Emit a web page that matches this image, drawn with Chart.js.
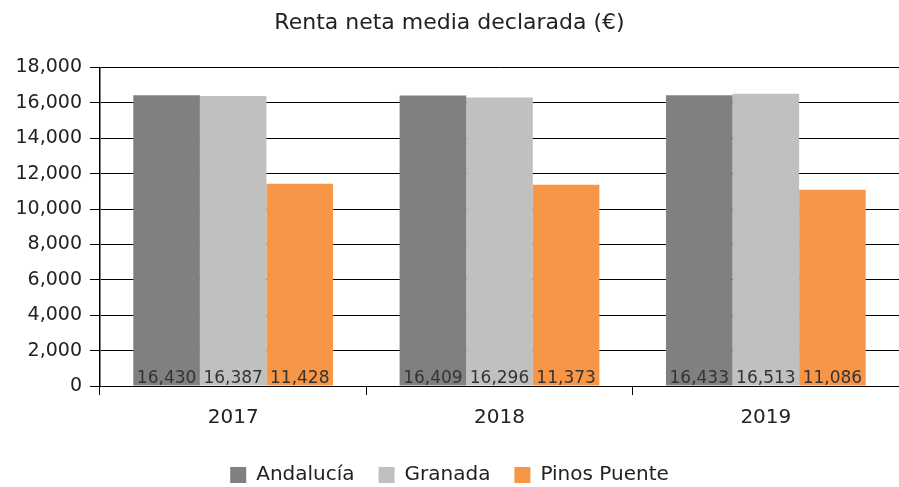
<!DOCTYPE html>
<html>
<head>
<meta charset="utf-8">
<script src="https://cdn.jsdelivr.net/npm/chart.js@4.4.1/dist/chart.umd.min.js"></script>
<style>
  html, body { margin: 0; padding: 0; background: #fff; }
  #wrap { width: 899px; height: 487px; }
</style>
</head>
<body>
<div id="wrap"><canvas id="rentaChart"></canvas></div>
<script>
const years = ['2017', '2018', '2019'];
const andalucia = [16430, 16409, 16433];
const granada = [16387, 16296, 16513];
const pinosPuente = [11428, 11373, 11086];

const FONT = "'DejaVu Sans', sans-serif";

// labels sitting at the foot of each bar
const bottomLabels = {
    id: 'bottomLabels',
    afterDatasetsDraw(chart) {
        const c = chart.ctx;
        const yZero = chart.scales.y.getPixelForValue(0);
        c.save();
        c.font = '17px ' + FONT;
        c.fillStyle = '#333333';
        c.textAlign = 'center';
        c.textBaseline = 'bottom';
        chart.data.datasets.forEach((ds, i) => {
            chart.getDatasetMeta(i).data.forEach((bar, j) => {
                c.fillText(ds.data[j].toLocaleString('en-US'), bar.x, yZero + 1);
            });
        });
        c.restore();
    }
};

new Chart(document.getElementById('rentaChart').getContext('2d'), {
    type: 'bar',
    data: {
        labels: years,
        datasets: [
            { label: 'Andalucía', data: andalucia, backgroundColor: '#808080' },
            { label: 'Granada', data: granada, backgroundColor: '#c0c0c0' },
            { label: 'Pinos Puente', data: pinosPuente, backgroundColor: '#f79646' }
        ]
    },
    options: {
        responsive: true,
        maintainAspectRatio: false,
        animation: false,
        datasets: { bar: { categoryPercentage: 0.75, barPercentage: 1.0 } },
        layout: { padding: { left: 0, right: 0, top: 8, bottom: -8 } },
        plugins: {
            title: {
                display: true,
                text: 'Renta neta media declarada (€)',
                color: '#222222',
                font: { family: FONT, size: 22, weight: 'normal' },
                padding: { top: 2, bottom: 31 }
            },
            legend: {
                position: 'bottom',
                labels: {
                    color: '#222222',
                    font: { family: FONT, size: 20 },
                    boxWidth: 16,
                    boxHeight: 16,
                    padding: 24
                }
            },
            tooltip: { enabled: false }
        },
        scales: {
            x: {
                grid: { display: true, drawOnChartArea: false, color: '#000000', tickLength: 9, offset: true },
                border: { color: '#000000', width: 1 },
                ticks: { color: '#222222', font: { family: FONT, size: 20 }, padding: 11 }
            },
            y: {
                min: 0,
                max: 18000,
                afterFit(scale) { scale.width = 100; },
                grid: { color: '#000000', lineWidth: 1, tickLength: 10 },
                border: { color: '#000000', width: 1.5 },
                ticks: {
                    stepSize: 2000,
                    color: '#222222',
                    font: { family: FONT, size: 19 },
                    padding: 8,
                    callback: v => v.toLocaleString('en-US')
                }
            }
        }
    },
    plugins: [bottomLabels]
});
</script>
</body>
</html>
